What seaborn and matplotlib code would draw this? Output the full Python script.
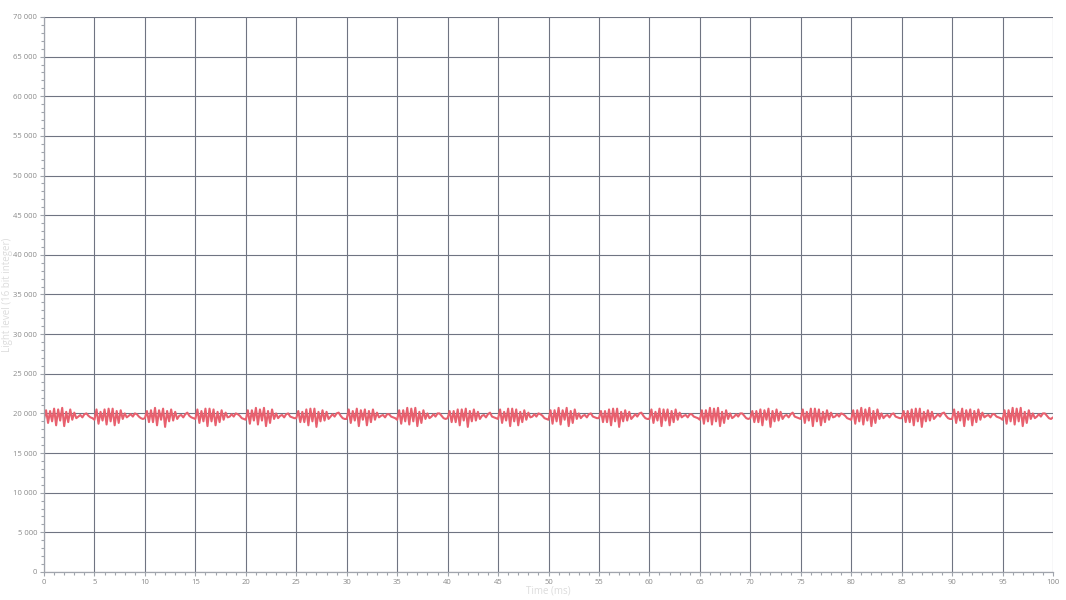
import matplotlib
matplotlib.use("Agg")
import matplotlib.pyplot as plt
import matplotlib.ticker as mticker
import numpy as np
import seaborn as sns

# Sampling period of the light sensor (ms)
sample_ms = 0.2

# Light level readings (16 bit integer), one row per ~5 ms flicker cycle
light = [
    19300, 20400, 18800, 20300, 19000, 20600, 18500, 20500, 19100, 20700, 18400, 20200, 18900, 20500, 19200, 20100, 19400, 19600, 19800, 19500, 19900, 20000, 19700, 19500, 19400,
    19200, 20500, 18700, 20200, 19100, 20500, 18600, 20600, 19000, 20600, 18500, 20300, 18800, 20400, 19300, 20000, 19500, 19700, 19900, 19600, 20000, 19900, 19600, 19400, 19300,
    19400, 20300, 18900, 20400, 18900, 20700, 18500, 20400, 19200, 20600, 18300, 20300, 19000, 20500, 19100, 20200, 19300, 19700, 19800, 19500, 19900, 20100, 19700, 19500, 19400,
    19300, 20500, 18800, 20300, 19000, 20600, 18400, 20600, 19000, 20500, 18500, 20200, 18900, 20400, 19200, 20100, 19500, 19600, 19900, 19600, 20000, 19900, 19700, 19400, 19300,
    19200, 20400, 18700, 20400, 19100, 20700, 18600, 20500, 19100, 20700, 18400, 20300, 18800, 20500, 19300, 20000, 19400, 19700, 19800, 19500, 19900, 20000, 19600, 19500, 19400,
    19400, 20300, 18900, 20200, 18900, 20500, 18500, 20600, 19000, 20600, 18300, 20200, 19000, 20400, 19100, 20200, 19300, 19600, 19900, 19600, 20000, 20100, 19700, 19400, 19300,
    19300, 20500, 18800, 20300, 19100, 20600, 18400, 20400, 19200, 20500, 18500, 20300, 18900, 20500, 19200, 20100, 19500, 19700, 19800, 19500, 19900, 19900, 19600, 19500, 19400,
    19200, 20400, 18700, 20400, 19000, 20700, 18600, 20600, 19000, 20700, 18400, 20200, 18800, 20400, 19300, 20000, 19400, 19600, 19900, 19600, 20000, 20000, 19700, 19400, 19300,
    19400, 20300, 18900, 20300, 18900, 20500, 18500, 20500, 19100, 20600, 18300, 20300, 19000, 20500, 19100, 20200, 19300, 19700, 19800, 19500, 19900, 20100, 19600, 19500, 19400,
    19300, 20500, 18800, 20200, 19100, 20600, 18400, 20600, 19000, 20500, 18500, 20200, 18900, 20400, 19200, 20100, 19500, 19600, 19900, 19600, 20000, 19900, 19700, 19400, 19300,
    19200, 20400, 18700, 20400, 19000, 20700, 18600, 20400, 19200, 20700, 18400, 20300, 18800, 20500, 19300, 20000, 19400, 19700, 19800, 19500, 19900, 20000, 19600, 19500, 19400,
    19400, 20300, 18900, 20300, 18900, 20500, 18500, 20600, 19000, 20600, 18300, 20200, 19000, 20400, 19100, 20200, 19300, 19600, 19900, 19600, 20000, 20100, 19700, 19400, 19300,
    19300, 20500, 18800, 20200, 19100, 20600, 18400, 20500, 19100, 20500, 18500, 20300, 18900, 20500, 19200, 20100, 19500, 19700, 19800, 19500, 19900, 19900, 19600, 19500, 19400,
    19200, 20400, 18700, 20400, 19000, 20700, 18600, 20600, 19000, 20700, 18400, 20200, 18800, 20400, 19300, 20000, 19400, 19600, 19900, 19600, 20000, 20000, 19700, 19400, 19300,
    19400, 20300, 18900, 20300, 18900, 20500, 18500, 20400, 19200, 20600, 18300, 20300, 19000, 20500, 19100, 20200, 19300, 19700, 19800, 19500, 19900, 20100, 19600, 19500, 19400,
    19300, 20500, 18800, 20200, 19100, 20600, 18400, 20600, 19000, 20500, 18500, 20200, 18900, 20400, 19200, 20100, 19500, 19600, 19900, 19600, 20000, 19900, 19700, 19400, 19300,
    19200, 20400, 18700, 20400, 19000, 20700, 18600, 20500, 19100, 20700, 18400, 20300, 18800, 20500, 19300, 20000, 19400, 19700, 19800, 19500, 19900, 20000, 19600, 19500, 19400,
    19400, 20300, 18900, 20300, 18900, 20500, 18500, 20600, 19000, 20600, 18300, 20200, 19000, 20400, 19100, 20200, 19300, 19600, 19900, 19600, 20000, 20100, 19700, 19400, 19300,
    19300, 20500, 18800, 20200, 19100, 20600, 18400, 20400, 19200, 20500, 18500, 20300, 18900, 20500, 19200, 20100, 19500, 19700, 19800, 19500, 19900, 19900, 19600, 19500, 19400,
    19200, 20400, 18700, 20400, 19000, 20700, 18600, 20600, 19000, 20700, 18400, 20200, 18800, 20400, 19300, 20000, 19400, 19600, 19900, 19600, 20000, 20000, 19700, 19400, 19300,
    19500,
]

time_ms = np.arange(len(light)) * sample_ms

sns.set_theme(style="white")
plt.rcParams["font.family"] = ["Open Sans", "DejaVu Sans"]

fig = plt.figure(figsize=(10.66, 6.0), dpi=100)
ax = fig.add_axes([0.0413, 0.0467, 0.9465, 0.925])

sns.lineplot(x=time_ms, y=light, color="#e8606e", linewidth=1.5, ax=ax)

ax.set_xlim(0, 100)
ax.set_ylim(0, 70000)
ax.xaxis.set_major_locator(mticker.MultipleLocator(5))
ax.xaxis.set_minor_locator(mticker.MultipleLocator(1))
ax.yaxis.set_major_locator(mticker.MultipleLocator(5000))
ax.yaxis.set_minor_locator(mticker.MultipleLocator(1000))
ax.yaxis.set_major_formatter(
    mticker.FuncFormatter(lambda v, p: f"{int(v):,}".replace(",", " "))
)

grid_col = "#6f7482"
ax.grid(True, which="major", color=grid_col, linewidth=0.8)
for side in ["top", "right"]:
    ax.spines[side].set_visible(False)
for side in ["left", "bottom"]:
    ax.spines[side].set_color("#a0a4ac")
    ax.spines[side].set_linewidth(0.9)

ax.tick_params(axis="both", which="major", length=3, width=0.8, color="#a0a4ac",
               labelsize=5.5, labelcolor="#8a8a8a", pad=2, bottom=True, left=True)
ax.tick_params(axis="both", which="minor", length=2, width=0.8, color="#a0a4ac",
               bottom=True, left=True)

ax.set_xlabel("Time (ms)", fontsize=7, color="#dcdcdc")
ax.set_ylabel("Light level (16 bit integer)", fontsize=7, color="#dcdcdc")
ax.xaxis.set_label_coords(0.5, -0.025)
ax.yaxis.set_label_coords(-0.031, 0.5)

fig.set_facecolor("white")
plt.savefig("out.png", dpi=100)
